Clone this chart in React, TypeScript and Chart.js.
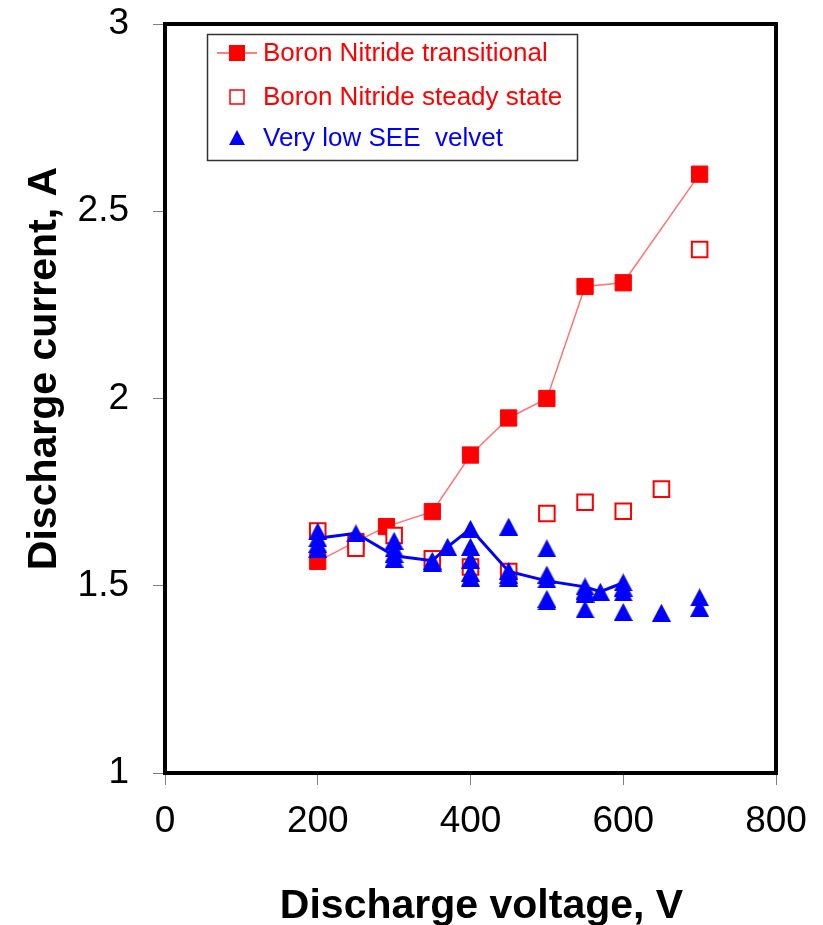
import React, { useEffect, useRef } from "react";
import { Chart, registerables } from "chart.js";

Chart.register(...registerables);

// ---------- data ----------
const SERIES_LABELS = [
  "Boron Nitride transitional",
  "Boron Nitride steady state",
  "Very low SEE  velvet",
];
const X_TITLE = "Discharge voltage, V";
const Y_TITLE = "Discharge current, A";
const X_MIN = 0;
const X_MAX = 800;
const X_STEP = 200;
const Y_MIN = 1;
const Y_MAX = 3;
const Y_STEP = 0.5;

const BN_TRANS_V = [200, 250, 290, 350, 400, 450, 500, 550, 600, 700];
const BN_TRANS_I = [1.565, 1.618, 1.658, 1.698, 1.849, 1.948, 2.0, 2.299, 2.309, 2.599];

const BN_STEADY_V = [200, 250, 300, 350, 400, 450, 500, 550, 600, 650, 700];
const BN_STEADY_I = [1.646, 1.6, 1.634, 1.572, 1.55, 1.538, 1.693, 1.723, 1.699, 1.758, 2.398];

const VELVET_V = [
  200, 200, 200, 200,
  250,
  300, 300, 300, 300,
  350, 350,
  370,
  400, 400, 400, 400, 400,
  450, 450, 450, 450,
  500, 500, 500, 500, 500,
  550, 550, 550, 550,
  570,
  600, 600, 600, 600,
  650,
  700, 700,
];
const VELVET_I = [
  1.645, 1.627, 1.612, 1.598,
  1.64,
  1.62, 1.6, 1.585, 1.572,
  1.567, 1.562,
  1.604,
  1.652, 1.604, 1.569, 1.535, 1.522,
  1.658, 1.54, 1.53, 1.522,
  1.6, 1.53, 1.517, 1.465, 1.458,
  1.498, 1.487, 1.479, 1.437,
  1.484,
  1.509, 1.495, 1.482, 1.43,
  1.428,
  1.469, 1.441,
];

const VELVET_LINE_V = [200, 250, 300, 350, 370, 400, 450, 500, 550, 570, 600];
const VELVET_LINE_I = [1.627, 1.64, 1.58, 1.567, 1.604, 1.652, 1.538, 1.513, 1.497, 1.484, 1.508];

const RED = "#ff0000";
const BLUE = "#0000ff";
const FONT = "'Liberation Sans', Arial, sans-serif";

const toXY = (xs: number[], ys: number[]) => xs.map((x, i) => ({ x, y: ys[i] }));

function makeTriangle(w: number, h: number, color: string): HTMLCanvasElement {
  const c = document.createElement("canvas");
  c.width = w;
  c.height = h;
  const g = c.getContext("2d")!;
  g.fillStyle = color;
  g.beginPath();
  g.moveTo(w / 2, 0);
  g.lineTo(w, h);
  g.lineTo(0, h);
  g.closePath();
  g.fill();
  return c;
}

const decorPlugin = {
  id: "decor",
  afterDraw(chart: any) {
    const { ctx, chartArea: a } = chart;
    ctx.save();
    // frame
    ctx.strokeStyle = "#000";
    ctx.lineWidth = 4;
    ctx.strokeRect(a.left, a.top, a.right - a.left, a.bottom - a.top);

    // axis titles
    ctx.fillStyle = "#000";
    ctx.font = `bold 41px ${FONT}`;
    ctx.textAlign = "center";
    ctx.textBaseline = "alphabetic";
    ctx.fillText(X_TITLE, (a.left + a.right) / 2 + 11, 918);
    ctx.save();
    ctx.translate(56, (a.top + a.bottom) / 2 - 30);
    ctx.rotate(-Math.PI / 2);
    ctx.fillText(Y_TITLE, 0, 0);
    ctx.restore();

    // legend box
    const lx = 207.5, ly = 34.5, lw = 370, lh = 126;
    ctx.fillStyle = "#fff";
    ctx.fillRect(lx, ly, lw, lh);
    ctx.strokeStyle = "#333";
    ctx.lineWidth = 1.5;
    ctx.strokeRect(lx, ly, lw, lh);

    const mx = 237;
    const rows = [53, 97, 138];
    // row 1: line + filled square
    ctx.strokeStyle = RED;
    ctx.lineWidth = 1.2;
    ctx.beginPath();
    ctx.moveTo(217, rows[0]);
    ctx.lineTo(257, rows[0]);
    ctx.stroke();
    ctx.fillStyle = RED;
    ctx.fillRect(mx - 8, rows[0] - 8, 16, 16);
    // row 2: open square
    ctx.fillStyle = "#fff";
    ctx.fillRect(mx - 7, rows[1] - 7, 14, 14);
    ctx.strokeStyle = RED;
    ctx.lineWidth = 1.5;
    ctx.strokeRect(mx - 7, rows[1] - 7, 14, 14);
    // row 3: triangle
    ctx.fillStyle = BLUE;
    ctx.beginPath();
    ctx.moveTo(mx, rows[2] - 8);
    ctx.lineTo(mx + 8, rows[2] + 7);
    ctx.lineTo(mx - 8, rows[2] + 7);
    ctx.closePath();
    ctx.fill();

    // legend text
    ctx.font = `26px ${FONT}`;
    ctx.textAlign = "left";
    ctx.textBaseline = "middle";
    const colors = [RED, RED, BLUE];
    SERIES_LABELS.forEach((t, i) => {
      ctx.fillStyle = colors[i];
      ctx.fillText(t, 263, rows[i] + 1);
    });
    ctx.restore();
  },
};

export default function App() {
  const ref = useRef<HTMLCanvasElement | null>(null);

  useEffect(() => {
    document.body.style.margin = "0";
    const canvas = ref.current!;
    const tri = makeTriangle(19, 18, BLUE);

    const chart = new Chart(canvas, {
      type: "scatter",
      data: {
        datasets: [
          {
            label: SERIES_LABELS[2],
            data: toXY(VELVET_V, VELVET_I),
            pointStyle: tri as any,
            pointRadius: 10,
            showLine: false,
            order: 0,
          },
          {
            label: SERIES_LABELS[2] + " line",
            data: toXY(VELVET_LINE_V, VELVET_LINE_I),
            showLine: true,
            pointRadius: 0,
            borderColor: BLUE,
            borderWidth: 3,
            order: 1,
          },
          {
            label: SERIES_LABELS[1],
            data: toXY(BN_STEADY_V, BN_STEADY_I),
            pointStyle: "rect",
            pointRadius: 11,
            pointBackgroundColor: "#fff",
            pointBorderColor: RED,
            pointBorderWidth: 2,
            showLine: false,
            order: 2,
          },
          {
            label: SERIES_LABELS[0],
            data: toXY(BN_TRANS_V, BN_TRANS_I),
            pointStyle: "rect",
            pointRadius: 11.5,
            pointBackgroundColor: RED,
            pointBorderColor: RED,
            pointBorderWidth: 1,
            showLine: true,
            borderColor: "rgba(255,0,0,0.55)",
            borderWidth: 1.5,
            order: 3,
          },
        ],
      },
      options: {
        responsive: false,
        animation: false,
        devicePixelRatio: 1,
        layout: { padding: { top: 24, right: 47, bottom: 0, left: 0 } },
        plugins: {
          legend: { display: false },
          tooltip: { enabled: false },
        },
        scales: {
          x: {
            type: "linear",
            min: X_MIN,
            max: X_MAX,
            afterFit: (s: any) => {
              s.height = 152;
              s.paddingLeft = 0;
              s.paddingRight = 0;
            },
            ticks: {
              stepSize: X_STEP,
              color: "#000",
              padding: 15,
              font: { family: FONT, size: 37 },
              maxRotation: 0,
            },
            grid: {
              display: true,
              drawOnChartArea: false,
              drawTicks: true,
              tickLength: 12,
              color: "#808080",
              lineWidth: 1,
            },
            border: { display: false },
            title: { display: false },
          },
          y: {
            type: "linear",
            min: Y_MIN,
            max: Y_MAX,
            afterFit: (s: any) => {
              s.width = 165;
              s.paddingTop = 0;
              s.paddingBottom = 0;
            },
            ticks: {
              stepSize: Y_STEP,
              color: "#000",
              padding: 24,
              font: { family: FONT, size: 37 },
              callback: (v: any) => `${Number(v)}`,
            },
            grid: {
              display: true,
              drawOnChartArea: false,
              drawTicks: true,
              tickLength: 12,
              color: "#808080",
              lineWidth: 1,
            },
            border: { display: false },
            title: { display: false },
          },
        },
      },
      plugins: [decorPlugin],
    });

    return () => {
      chart.destroy();
    };
  }, []);

  return (
    <div style={{ width: 823, height: 925 }}>
      <canvas ref={ref} width={823} height={925} style={{ display: "block" }} />
    </div>
  );
}
